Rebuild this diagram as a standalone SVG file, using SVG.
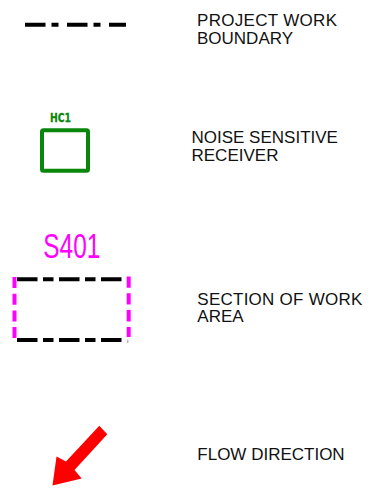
<svg xmlns="http://www.w3.org/2000/svg" width="382" height="495" viewBox="0 0 382 495">
<style>
.lbl{font-family:"Liberation Sans",Arial,sans-serif;font-size:17px;fill:#111}
.bound{stroke:#000;stroke-width:4;fill:none}
.mag{stroke:#ff00ff;stroke-width:4;fill:none}
</style>
<rect width="382" height="495" fill="#fff"/>
<g id="legend-boundary">
<line class="bound" x1="25" y1="24.7" x2="126" y2="24.7" stroke-dasharray="20.5 6 7 8.5"/>
<text class="lbl" x="197" y="26" textLength="140">PROJECT WORK</text>
<text class="lbl" x="197" y="44">BOUNDARY</text>
</g>
<g id="legend-receiver">
<text x="60.5" y="122.3" text-anchor="middle" font-family="'DejaVu Sans',sans-serif" font-weight="bold" font-size="12.5" fill="#0a870a" stroke="#0a870a" stroke-width="0.3" textLength="21" lengthAdjust="spacingAndGlyphs">HC1</text>
<rect x="42" y="130.3" width="46" height="40.4" rx="1.5" fill="none" stroke="#0a870a" stroke-width="4"/>
<text class="lbl" x="191.5" y="143.3">NOISE SENSITIVE</text>
<text class="lbl" x="191.5" y="160.7">RECEIVER</text>
</g>
<g id="legend-section">
<text x="43.3" y="258.3" font-family="'Liberation Sans',Arial,sans-serif" font-size="35" fill="#ff00ff" textLength="57" lengthAdjust="spacingAndGlyphs">S401</text>
<line class="bound" x1="17" y1="279.3" x2="122.5" y2="279.3" stroke-dasharray="20.5 5.5 10.5 5.5"/>
<line class="bound" x1="17" y1="340" x2="122" y2="340" stroke-dasharray="20.5 5.5 10.5 5.5"/>
<line class="mag" x1="14.5" y1="277" x2="14.5" y2="338" stroke-dasharray="11 5.7"/>
<line class="mag" x1="128.7" y1="276.5" x2="128.7" y2="337" stroke-dasharray="11.3 5.5"/>
<line x1="127.8" y1="339.7" x2="127.8" y2="343" stroke="#999" stroke-width="1"/>
<text class="lbl" x="197.3" y="305" textLength="165">SECTION OF WORK</text>
<text class="lbl" x="197.3" y="322.3">AREA</text>
</g>
<g id="legend-flow">
<polygon points="99.3,425.7 107.3,434.3 74.5,470 81.7,478.5 52.5,485.5 56.5,456.5 66,461.5" fill="#ff0000"/>
<text class="lbl" x="197.3" y="460">FLOW DIRECTION</text>
</g>
</svg>
